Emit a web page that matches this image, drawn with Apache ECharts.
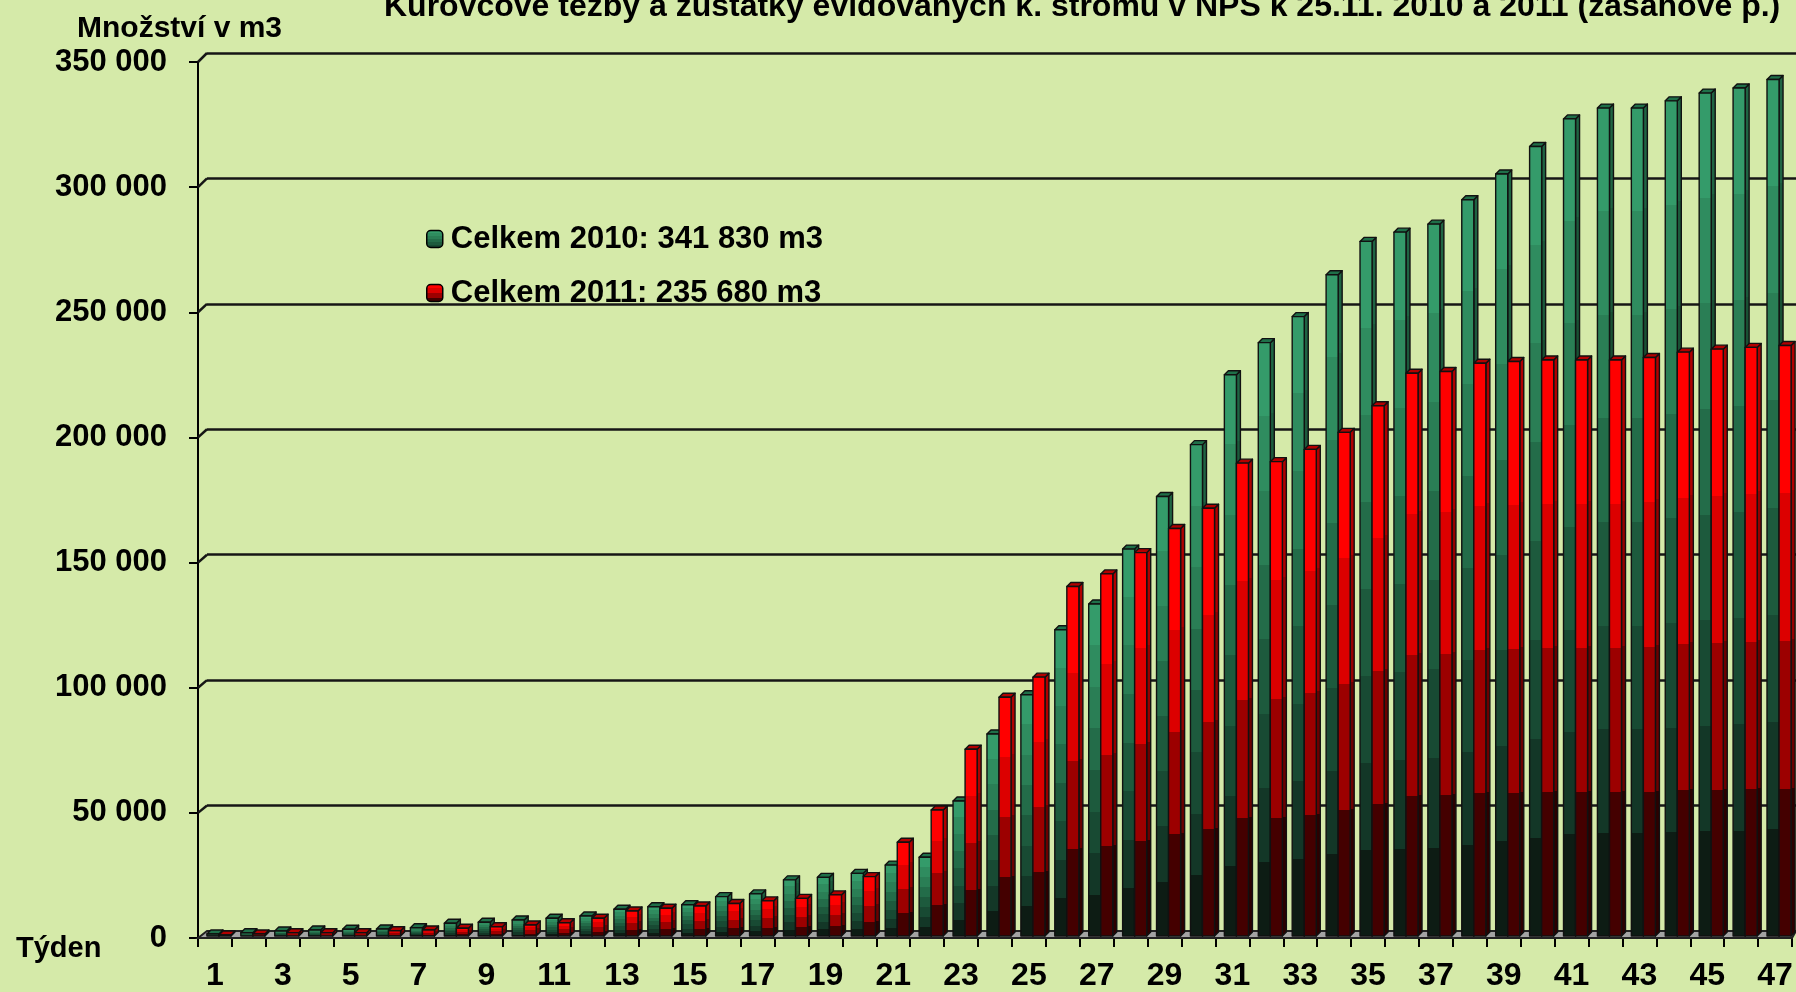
<!DOCTYPE html>
<html>
<head>
  <meta charset="utf-8">
  <title>Kůrovcové těžby</title>
  <script src="https://cdn.jsdelivr.net/npm/echarts@6/dist/echarts.min.js"></script>
</head>
<style>
  html, body { margin: 0; padding: 0; background: #d5eaa9; }
  #chart { width: 1796px; height: 992px; }
</style>
<body>
  <div id="chart"></div>
  <script>
    // týdny 1..47
    const weeks = ['1','2','3','4','5','6','7','8','9','10','11','12','13','14','15','16',
      '17','18','19','20','21','22','23','24','25','26','27','28','29','30','31','32',
      '33','34','35','36','37','38','39','40','41','42','43','44','45','46','47'];

    // kumulativní množství v m3
    const total2010 = [800, 1300, 2000, 2400, 2700, 2800, 3300, 5100, 5500, 6400, 7100, 8000,
      10700, 11700, 12500, 15700, 16800, 22400, 23400, 25000, 28300, 31400, 53900, 80600,
      96300, 122200, 132500, 154400, 175400, 196100, 224000, 236800, 247200, 263900, 277200,
      280900, 284100, 293800, 304100, 315100, 326100, 330400, 330400, 333300, 336400, 338400, 341830];
    const total2011 = [400, 800, 1300, 1300, 1300, 2100, 2400, 3100, 3700, 4400, 5300, 7100,
      10000, 11100, 12000, 13000, 14000, 15000, 16400, 23700, 37400, 50300, 74500, 95300,
      103300, 139500, 144500, 153000, 162600, 170700, 188700, 189300, 194200, 201000, 211600,
      224600, 225300, 228600, 229300, 229900, 229900, 229900, 230900, 233000, 234200, 234900, 235680];

    const legendNames = ['Celkem 2010: 341 830 m3', 'Celkem 2011: 235 680 m3'];
    const yTicks = { min: 0, max: 350000, interval: 50000 };

    const FONT = '"Liberation Sans", Arial, sans-serif';
    // front plane (axes), back wall (gridlines), bars plane
    const front = { left: 198, top: 62, width: 1594, height: 878 };
    const back = { left: 207, top: 53, width: 1589, height: 878 };
    const bars = { left: 202, top: 59, width: 1594, height: 877 };
    const depth = 4;

    function bands(colors) {
      const stops = [];
      const n = colors.length;
      colors.forEach((c, i) => {
        stops.push({ offset: i / n, color: c });
        stops.push({ offset: (i + 1) / n, color: c });
      });
      return { type: 'linear', x: 0, y: 0, x2: 0, y2: 1, colorStops: stops };
    }

    const greenFront = ['#349b6a', '#2f8c5f', '#2a7e55', '#236c49', '#1d5a3d', '#184a33', '#133727', '#0d1c14'];
    const greenSide = ['#1f6443', '#1c5a3c', '#195034', '#15452d', '#113a26', '#0e301f', '#0b2419', '#08130d'];
    const redFront = ['#ff0000', '#dc0000', '#9c0000', '#440000'];
    const redSide = ['#b00000', '#960000', '#6a0000', '#2c0000'];

    const styles = [
      { front: bands(greenFront), side: bands(greenSide), top: '#1f7049' },
      { front: bands(redFront), side: bands(redSide), top: '#b30000' }
    ];

    function renderBar(params, api) {
      const s = styles[params.seriesIndex];
      const idx = api.value(0);
      const top = api.coord([idx, api.value(1)]);
      const base = api.coord([idx, 0]);
      const bw = api.size([1, 0])[0];
      const w = bw * 0.355;
      const x0 = params.seriesIndex === 0 ? top[0] - w : top[0];
      const y0 = top[1], y1 = base[1];
      const line = { stroke: '#111', lineWidth: 1.4, lineJoin: 'round' };
      return {
        type: 'group',
        children: [
          { type: 'polygon', shape: { points: [[x0 + w, y0], [x0 + w + depth, y0 - depth], [x0 + w + depth, y1 - depth], [x0 + w, y1]] },
            style: Object.assign({ fill: s.side }, line) },
          { type: 'polygon', shape: { points: [[x0, y0], [x0 + depth, y0 - depth], [x0 + w + depth, y0 - depth], [x0 + w, y0]] },
            style: Object.assign({ fill: s.top }, line) },
          { type: 'rect', shape: { x: x0, y: y0, width: w, height: y1 - y0 },
            style: Object.assign({ fill: s.front }, line) }
        ]
      };
    }

    const fmt = v => String(v).replace(/\B(?=(\d{3})+(?!\d))/g, ' ');

    const chart = echarts.init(document.getElementById('chart'));
    const option = {
      backgroundColor: '#d5eaa9',
      animation: false,
      title: [
        { text: 'Kůrovcové těžby a zůstatky evidovaných k. stromů v NPŠ k 25.11. 2010 a 2011 (zásahové p.)',
          left: 379, top: -14,
          textStyle: { fontFamily: FONT, fontSize: 32, fontWeight: 'bold', color: '#000' } },
        { text: 'Množství v m3', left: 72, top: 9,
          textStyle: { fontFamily: FONT, fontSize: 30, fontWeight: 'bold', color: '#000' } },
        { text: 'Týden', left: 11, top: 929,
          textStyle: { fontFamily: FONT, fontSize: 29, fontWeight: 'bold', color: '#000' } }
      ],
      legend: {
        orient: 'vertical',
        left: 421, top: 218,
        itemWidth: 16, itemHeight: 17, itemGap: 22,
        selectedMode: false,
        data: legendNames,
        itemStyle: { borderColor: '#000', borderWidth: 1.5 },
        textStyle: { fontFamily: FONT, fontSize: 31, fontWeight: 'bold', color: '#000', padding: [0, 0, 0, 3], lineHeight: 32 }
      },
      grid: [
        Object.assign({}, front),
        Object.assign({}, back),
        Object.assign({}, bars)
      ],
      xAxis: [
        { type: 'category', gridIndex: 0, data: weeks, boundaryGap: true,
          axisLine: { lineStyle: { color: '#000', width: 2 } },
          axisTick: { show: true, interval: 0, length: 9, lineStyle: { color: '#000', width: 2 } },
          axisLabel: { interval: 1, margin: 22, fontFamily: FONT, fontSize: 32, fontWeight: 'bold', color: '#000' },
          splitLine: { show: false } },
        { type: 'category', gridIndex: 1, data: weeks, show: false },
        { type: 'category', gridIndex: 2, data: weeks, show: false }
      ],
      yAxis: [
        { type: 'value', gridIndex: 0, min: yTicks.min, max: yTicks.max, interval: yTicks.interval,
          axisLine: { show: true, lineStyle: { color: '#000', width: 2 } },
          axisTick: { show: true, length: 9, lineStyle: { color: '#000', width: 2 } },
          axisLabel: { margin: 31, padding: [3, 0, 0, 0], formatter: fmt, fontFamily: FONT, fontSize: 31, fontWeight: 'bold', color: '#000' },
          splitLine: { show: false } },
        { type: 'value', gridIndex: 1, min: yTicks.min, max: yTicks.max, interval: yTicks.interval,
          axisLine: { show: false }, axisTick: { show: false }, axisLabel: { show: false },
          splitLine: { show: true, lineStyle: { color: '#161616', width: 2.5 } } },
        { type: 'value', gridIndex: 2, min: yTicks.min, max: yTicks.max, show: false, splitLine: { show: false } }
      ],
      series: [
        { name: legendNames[0], type: 'custom', xAxisIndex: 2, yAxisIndex: 2, z: 3,
          renderItem: renderBar, encode: { x: 0, y: 1 },
          itemStyle: { color: bands(greenFront.slice(0, 6)) },
          data: total2010.map((v, i) => [i, v]) },
        { name: legendNames[1], type: 'custom', xAxisIndex: 2, yAxisIndex: 2, z: 4,
          renderItem: renderBar, encode: { x: 0, y: 1 },
          itemStyle: { color: bands(redFront) },
          data: total2011.map((v, i) => [i, v]) }
      ]
    };
    chart.setOption(option);

    // 3D detail: floor and the short links from front ticks to back wall lines
    const gfx = [];
    const fy0 = chart.convertToPixel({ yAxisIndex: 0 }, 0);
    const by0 = chart.convertToPixel({ yAxisIndex: 1 }, 0);
    gfx.push({ type: 'polygon', z: 1,
      shape: { points: [[front.left, fy0], [back.left, by0], [back.left + back.width, by0], [front.left + front.width, fy0]] },
      style: { fill: '#a3a3a3', stroke: '#222', lineWidth: 2 } });
    for (let v = yTicks.min + yTicks.interval; v <= yTicks.max; v += yTicks.interval) {
      const fy = chart.convertToPixel({ yAxisIndex: 0 }, v);
      const by = chart.convertToPixel({ yAxisIndex: 1 }, v);
      gfx.push({ type: 'line', z: 1,
        shape: { x1: front.left, y1: fy, x2: back.left, y2: by },
        style: { stroke: '#161616', lineWidth: 2.5 } });
    }
    chart.setOption({ graphic: gfx });
  </script>
</body>
</html>
